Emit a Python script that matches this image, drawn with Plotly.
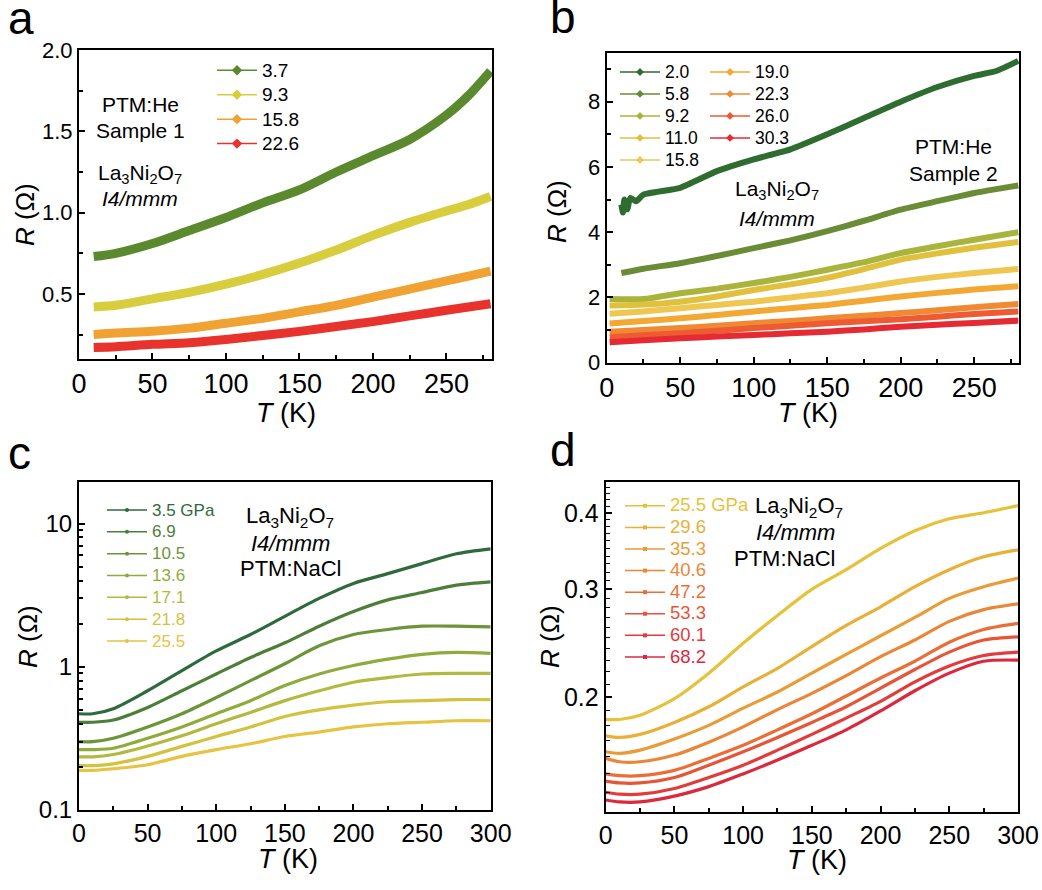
import plotly.graph_objects as go
import math

W, H = 1042, 890
FONT = "Liberation Sans, Arial, sans-serif"

# ---------------- Panel a data (PTM:He, Sample 1) ----------------
a_T = [10, 25, 50, 75, 100, 125, 150, 175, 200, 225, 250, 265, 280]
a_37 = [0.73, 0.75, 0.81, 0.89, 0.97, 1.06, 1.14, 1.25, 1.35, 1.45, 1.60, 1.72, 1.87]
a_93 = [0.42, 0.43, 0.47, 0.51, 0.56, 0.62, 0.69, 0.77, 0.86, 0.94, 1.01, 1.05, 1.10]
a_158 = [0.25, 0.26, 0.27, 0.29, 0.32, 0.35, 0.39, 0.43, 0.48, 0.53, 0.58, 0.61, 0.64]
a_226 = [0.17, 0.175, 0.19, 0.20, 0.22, 0.245, 0.27, 0.30, 0.33, 0.365, 0.40, 0.42, 0.44]
a_labels = ["3.7", "9.3", "15.8", "22.6"]
a_colors = ["#5b8a2e", "#d8cd3c", "#f0a232", "#e8322c"]

# ---------------- Panel b data (PTM:He, Sample 2) ----------------
b_T20 = [10, 11, 12, 14, 16, 20, 25, 50, 75, 100, 125, 150, 175, 200, 225, 250, 265, 280]
b_20 = [4.85, 4.6, 5.0, 4.7, 5.05, 4.95, 5.15, 5.36, 5.87, 6.23, 6.54, 7.0, 7.5, 8.0, 8.45, 8.79, 8.94, 9.25]
b_T58 = [10, 25, 50, 75, 100, 125, 150, 175, 200, 225, 250, 265, 280]
b_58 = [2.75, 2.88, 3.05, 3.27, 3.51, 3.75, 4.03, 4.35, 4.69, 4.95, 5.20, 5.32, 5.43]
b_T = [2, 25, 50, 75, 100, 125, 150, 175, 200, 225, 250, 280]
b_92 = [1.95, 1.95, 2.13, 2.27, 2.44, 2.63, 2.85, 3.08, 3.36, 3.57, 3.77, 4.00]
b_110 = [1.75, 1.78, 1.87, 2.03, 2.23, 2.40, 2.60, 2.87, 3.16, 3.35, 3.52, 3.70]
b_158 = [1.50, 1.57, 1.67, 1.77, 1.87, 2.00, 2.13, 2.30, 2.49, 2.63, 2.75, 2.87]
b_190 = [1.20, 1.28, 1.36, 1.46, 1.57, 1.67, 1.77, 1.90, 2.03, 2.14, 2.24, 2.34]
b_223 = [0.95, 1.00, 1.06, 1.13, 1.21, 1.28, 1.36, 1.44, 1.52, 1.61, 1.70, 1.80]
b_260 = [0.78, 0.84, 0.90, 0.98, 1.06, 1.13, 1.21, 1.27, 1.33, 1.41, 1.49, 1.57]
b_303 = [0.63, 0.69, 0.75, 0.80, 0.85, 0.90, 0.95, 1.02, 1.10, 1.16, 1.22, 1.29]
b_labels = ["2.0", "5.8", "9.2", "11.0", "15.8", "19.0", "22.3", "26.0", "30.3"]
b_colors = ["#2e6c30", "#6a8c34", "#a9b43c", "#e0c03c", "#eec650", "#f2a832",
            "#f08a32", "#ee5a32", "#e52a34"]

# ---------------- Panel c data (PTM:NaCl) ----------------
c_T = [0, 10, 25, 50, 75, 100, 125, 150, 175, 200, 225, 250, 275, 300]
c_35 = [0.47, 0.47, 0.51, 0.68, 0.94, 1.29, 1.68, 2.25, 3.0, 3.82, 4.47, 5.25, 6.15, 6.66]
c_69 = [0.41, 0.41, 0.425, 0.52, 0.68, 0.89, 1.16, 1.47, 1.92, 2.43, 2.93, 3.30, 3.72, 3.92]
c_105 = [0.30, 0.30, 0.317, 0.38, 0.47, 0.61, 0.80, 1.05, 1.40, 1.68, 1.82, 1.92, 1.92, 1.90]
c_136 = [0.264, 0.264, 0.27, 0.317, 0.38, 0.47, 0.58, 0.74, 0.89, 1.02, 1.13, 1.22, 1.26, 1.24]
c_171 = [0.235, 0.235, 0.244, 0.28, 0.33, 0.40, 0.48, 0.58, 0.68, 0.78, 0.84, 0.89, 0.90, 0.90]
c_218 = [0.204, 0.204, 0.21, 0.237, 0.278, 0.326, 0.38, 0.45, 0.50, 0.54, 0.57, 0.58, 0.59, 0.59]
c_255 = [0.189, 0.189, 0.194, 0.207, 0.237, 0.264, 0.29, 0.326, 0.35, 0.38, 0.40, 0.41, 0.42, 0.42]
c_labels = ["3.5 GPa", "6.9", "10.5", "13.6", "17.1", "21.8", "25.5"]
c_colors = ["#2e6a3c", "#4d7e38", "#6b9538", "#8eab3c", "#b1ba3f", "#d3c23f", "#e6c340"]

# ---------------- Panel d data (PTM:NaCl) ----------------
d_T = [0, 10, 25, 50, 75, 100, 125, 150, 175, 200, 225, 250, 275, 300]
d_255 = [0.184, 0.184, 0.187, 0.199, 0.219, 0.245, 0.272, 0.300, 0.323, 0.350, 0.374, 0.391, 0.400, 0.411]
d_296 = [0.173, 0.172, 0.174, 0.182, 0.193, 0.208, 0.223, 0.242, 0.262, 0.281, 0.303, 0.323, 0.339, 0.348]
d_353 = [0.163, 0.162, 0.164, 0.171, 0.180, 0.192, 0.204, 0.219, 0.235, 0.252, 0.270, 0.290, 0.303, 0.313]
d_406 = [0.159, 0.157, 0.157, 0.161, 0.169, 0.179, 0.191, 0.203, 0.217, 0.233, 0.248, 0.266, 0.278, 0.284]
d_472 = [0.150, 0.149, 0.149, 0.152, 0.159, 0.167, 0.177, 0.188, 0.201, 0.215, 0.229, 0.246, 0.258, 0.264]
d_533 = [0.146, 0.145, 0.145, 0.148, 0.155, 0.163, 0.172, 0.182, 0.193, 0.207, 0.222, 0.237, 0.248, 0.251]
d_601 = [0.140, 0.139, 0.139, 0.142, 0.148, 0.155, 0.164, 0.174, 0.185, 0.197, 0.212, 0.225, 0.234, 0.237]
d_682 = [0.136, 0.135, 0.135, 0.138, 0.143, 0.150, 0.158, 0.167, 0.177, 0.190, 0.205, 0.219, 0.229, 0.230]
d_labels = ["25.5 GPa", "29.6", "35.3", "40.6", "47.2", "53.3", "60.1", "68.2"]
d_colors = ["#e6c23a", "#e8b036", "#e99c36", "#ea8636", "#ea6e36", "#e65538", "#e23c3a", "#dc283c"]


def px(x):
    return x / W


def py(y):
    return 1 - y / H


fig = go.Figure()


def add_series(xs, ys, color, width, xa, ya, smooth=0.8):
    fig.add_trace(go.Scatter(x=xs, y=ys, mode="lines", xaxis=xa, yaxis=ya,
                             line=dict(color=color, width=width, shape="spline", smoothing=smooth),
                             showlegend=False, hoverinfo="skip"))


def add_legend_entry(name, color, legend, symbol, msize, xa, ya):
    fig.add_trace(go.Scatter(x=[None], y=[None], mode="lines+markers", name=name,
                             xaxis=xa, yaxis=ya, legend=legend,
                             line=dict(color=color, width=1.5),
                             marker=dict(color=color, size=msize, symbol=symbol)))


def sized(txt, size, color=None):
    style = f"font-size:{size}px"
    if color:
        style += f";color:{color}"
    return f"<span style='{style}'>{txt}</span>"


# Panel a
for ys, col in zip([a_37, a_93, a_158, a_226], a_colors):
    add_series(a_T, ys, col, 9, "x", "y")
for lab, col in zip(a_labels, a_colors):
    add_legend_entry(sized(lab, 19), col, "legend", "diamond", 8, "x", "y")

# Panel b
b_series = [(b_T20, b_20), (b_T58, b_58), (b_T, b_92), (b_T, b_110), (b_T, b_158),
            (b_T, b_190), (b_T, b_223), (b_T, b_260), (b_T, b_303)]
for (xs, ys), col in zip(b_series, b_colors):
    add_series(xs, ys, col, 6, "x2", "y2", smooth=0.5)
for i, (lab, col) in enumerate(zip(b_labels, b_colors)):
    add_legend_entry(sized(lab, 17.5), col, "legend2" if i < 5 else "legend3", "diamond", 6, "x2", "y2")

# Panel c
for ys, col in zip([c_35, c_69, c_105, c_136, c_171, c_218, c_255], c_colors):
    add_series(c_T, ys, col, 3.2, "x3", "y3")
for lab, col in zip(c_labels, c_colors):
    add_legend_entry(sized(lab, 17, col), col, "legend4", "circle", 4, "x3", "y3")

# Panel d
for ys, col in zip([d_255, d_296, d_353, d_406, d_472, d_533, d_601, d_682], d_colors):
    add_series(d_T, ys, col, 3.2, "x4", "y4")
for lab, col in zip(d_labels, d_colors):
    add_legend_entry(sized(lab, 18.5, col), col, "legend5", "square", 4, "x4", "y4")

axis_common = dict(showgrid=False, zeroline=False, showline=True, linecolor="black",
                   linewidth=2, mirror=True, ticks="inside", ticklen=6, tickwidth=1.8,
                   tickcolor="black", automargin=False)


def xaxis(domain, rng, anchor, fsize):
    return dict(axis_common, domain=domain, range=rng, anchor=anchor,
                tickmode="array", tickvals=[0, 50, 100, 150, 200, 250, 300],
                tickfont=dict(family=FONT, size=fsize, color="black"),
                minor=dict(tickmode="array", tickvals=[25, 75, 125, 175, 225, 275],
                           ticks="inside", ticklen=4, tickwidth=1.5, tickcolor="black"))


dom_a = ([px(79), px(492)], [py(359), py(50)])
dom_b = ([px(606.7), px(1019)], [py(362.7), py(52.7)])
dom_c = ([px(79), px(490.7)], [py(810), py(482)])
dom_d = ([px(605.7), px(1018)], [py(812), py(482)])

c_minor = [0.2, 0.3, 0.4, 0.5, 0.6, 0.7, 0.8, 0.9, 2, 3, 4, 5, 6, 7, 8, 9, 20]
d_minor = [round(0.13 + 0.01 * i, 2) for i in range(32)]
d_minor = [v for v in d_minor if v not in (0.2, 0.3, 0.4)]

fig.update_layout(
    template="none",
    width=W, height=H, margin=dict(l=0, r=0, t=0, b=0, pad=0, autoexpand=False),
    paper_bgcolor="white", plot_bgcolor="white",
    font=dict(family=FONT, color="black"),
    xaxis=xaxis(dom_a[0], [0, 281], "y", 27),
    yaxis=dict(axis_common, domain=dom_a[1], range=[0.1, 2.0], anchor="x",
               tickmode="array", tickvals=[0.5, 1.0, 1.5, 2.0], ticktext=["0.5", "1.0", "1.5", "2.0"],
               tickfont=dict(family=FONT, size=22, color="black"),
               minor=dict(tickmode="array", tickvals=[0.25, 0.75, 1.25, 1.75],
                          ticks="inside", ticklen=4, tickwidth=1.5, tickcolor="black")),
    xaxis2=xaxis(dom_b[0], [0, 280.5], "y2", 27),
    yaxis2=dict(axis_common, domain=dom_b[1], range=[0, 9.5], anchor="x2",
                tickmode="array", tickvals=[0, 2, 4, 6, 8],
                tickfont=dict(family=FONT, size=22, color="black"),
                minor=dict(tickmode="array", tickvals=[1, 3, 5, 7, 9],
                           ticks="inside", ticklen=4, tickwidth=1.5, tickcolor="black")),
    xaxis3=xaxis(dom_c[0], [0, 300], "y3", 25),
    yaxis3=dict(axis_common, domain=dom_c[1], type="log", range=[-1, math.log10(19.5)], anchor="x3",
                tickmode="array", tickvals=[0.1, 1, 10], ticktext=["0.1", "1", "10"],
                tickfont=dict(family=FONT, size=24, color="black"),
                minor=dict(tickmode="array", tickvals=c_minor,
                           ticks="inside", ticklen=4, tickwidth=1.5, tickcolor="black")),
    xaxis4=xaxis(dom_d[0], [0, 300], "y4", 25),
    yaxis4=dict(axis_common, domain=dom_d[1], type="log",
                range=[math.log10(0.130), math.log10(0.449)], anchor="x4",
                tickmode="array", tickvals=[0.2, 0.3, 0.4], ticktext=["0.2", "0.3", "0.4"],
                tickfont=dict(family=FONT, size=25, color="black"),
                minor=dict(tickmode="array", tickvals=d_minor,
                           ticks="inside", ticklen=4, tickwidth=1.2, tickcolor="black")),
)

leg_common = dict(xanchor="left", yanchor="top", bgcolor="rgba(0,0,0,0)", borderwidth=0,
                  itemwidth=40, tracegroupgap=0, itemclick=False, itemdoubleclick=False)
fig.update_layout(
    legend=dict(leg_common, x=px(212), y=py(53), font=dict(family=FONT, size=16.5, color="black")),
    legend2=dict(leg_common, x=px(615), y=py(56), font=dict(family=FONT, size=14.6, color="black")),
    legend3=dict(leg_common, x=px(705), y=py(56), font=dict(family=FONT, size=14.6, color="black")),
    legend4=dict(leg_common, x=px(102), y=py(494), font=dict(family=FONT, size=14.5, color="black")),
    legend5=dict(leg_common, x=px(620), y=py(490), font=dict(family=FONT, size=14.3, color="black")),
)

LA = "La<sub>3</sub>Ni<sub>2</sub>O<sub>7</sub>"
ann = []


def text(x, y, s, size, xanchor="center", angle=0):
    ann.append(dict(x=px(x), y=py(y), xref="paper", yref="paper", text=s, showarrow=False,
                    xanchor=xanchor, yanchor="middle", textangle=angle,
                    font=dict(family=FONT, size=size, color="black")))


# panel letters
text(6, 18, "a", 46, "left")
text(548, 17, "b", 46, "left")
text(6, 453, "c", 46, "left")
text(548, 450, "d", 46, "left")

# panel a annotations
text(140, 105, "PTM:He", 21)
text(140, 131, "Sample 1", 21)
text(140, 174, LA, 21)
text(140, 198, "<i>I4/mmm</i>", 21)
# panel b annotations
text(953, 147, "PTM:He", 21)
text(953, 173, "Sample 2", 21)
text(777, 190, LA, 21)
text(777, 218, "<i>I4/mmm</i>", 21)
# panel c annotations
text(290, 517, LA, 22)
text(290, 543, "<i>I4/mmm</i>", 22)
text(290, 568, "PTM:NaCl", 22)
# panel d annotations
text(799, 507, LA, 22)
text(795, 532, "<i>I4/mmm</i>", 22)
text(784, 558, "PTM:NaCl", 22)

# axis titles
text(286, 413, "<i>T</i> (K)", 27)
text(808, 413, "<i>T</i> (K)", 27)
text(288, 859, "<i>T</i> (K)", 27)
text(817, 860, "<i>T</i> (K)", 27)
text(25, 215, "<i>R</i> (Ω)", 26, angle=-90)
text(557, 212, "<i>R</i> (Ω)", 26, angle=-90)
text(28, 637, "<i>R</i> (Ω)", 26, angle=-90)
text(550, 637, "<i>R</i> (Ω)", 26, angle=-90)

fig.update_layout(annotations=ann)

fig.write_html("out.html", config={"displayModeBar": False},
               post_script="document.body.style.margin='0px';")
